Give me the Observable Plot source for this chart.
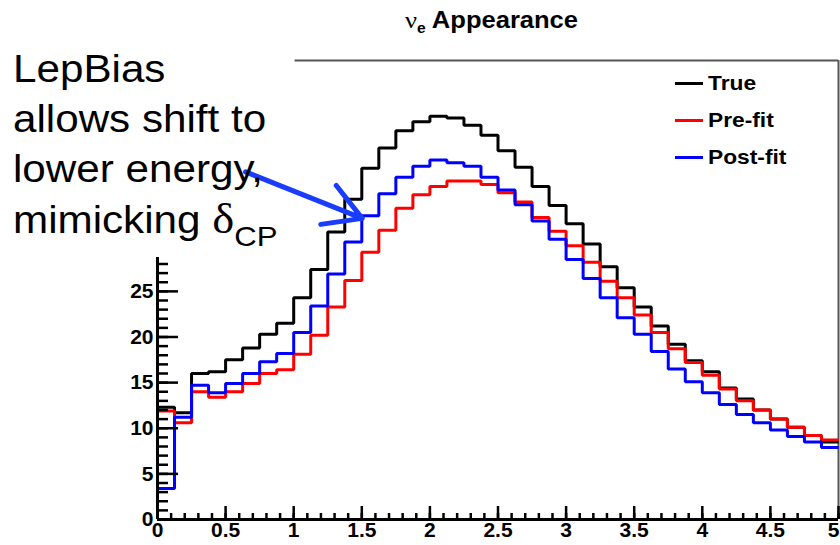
<!DOCTYPE html>
<html><head><meta charset="utf-8">
<script src="https://cdn.jsdelivr.net/npm/d3@7"></script>
<script src="https://cdn.jsdelivr.net/npm/@observablehq/plot@0.6"></script>
<style>
body{margin:0;background:#fff;}
#wrap{position:relative;width:840px;height:545px;overflow:hidden;font-family:"Liberation Sans",Arial,sans-serif;color:#000;}
#chart{position:absolute;left:0;top:0;}
.ov{position:absolute;white-space:nowrap;transform-origin:left center;transform:scaleX(1.11);}
#title{left:405px;top:7px;font-size:23px;line-height:26px;font-weight:bold;}
#title .nu{font-family:"Liberation Serif","DejaVu Serif",serif;font-weight:normal;font-size:24px;}
#title .sub{font-size:14px;position:relative;top:5px;}
.note{left:13px;font-size:38px;line-height:50px;}
.note .delta{font-family:"Liberation Serif","DejaVu Serif",serif;font-size:42px;}
.note .cp{font-size:28px;position:relative;top:13px;}
.legline{position:absolute;left:675px;width:28px;height:3px;}
.legtext{left:708px;font-size:20.5px;font-weight:bold;line-height:24px;}
</style></head><body>
<div id="wrap">
<div id="chart"></div>
</div>
<script>
// ---- data ----
const binLow = [0,0.125,0.25,0.375,0.5,0.625,0.75,0.875,1,1.125,1.25,1.375,1.5,1.625,1.75,1.875,
  2,2.125,2.25,2.375,2.5,2.625,2.75,2.875,3,3.125,3.25,3.375,3.5,3.625,3.75,3.875,
  4,4.125,4.25,4.375,4.5,4.625,4.75,4.875];
const binTop = 5;
const trueVals = [12.3,11.7,16.0,16.2,17.5,18.8,20.3,21.5,24.3,27.4,31.5,35.1,38.5,40.7,42.6,43.6,
  44.2,44.0,43.2,42.1,40.4,38.6,36.5,34.4,32.4,30.2,27.7,25.4,23.3,21.2,19.2,17.4,
  16.2,14.4,13.2,12.0,11.0,10.1,9.2,8.5];
const preFitVals = [11.9,10.6,14.0,13.4,14.0,14.9,16.0,16.4,18.1,20.2,23.3,26.2,29.3,31.7,34.1,35.6,
  36.5,37.1,37.1,36.7,35.8,34.8,33.1,31.6,30.0,28.2,26.1,24.3,22.4,20.5,18.7,17.2,
  15.8,14.3,13.0,12.0,11.0,10.1,9.2,8.7];
const postFitVals = [3.4,11.2,14.7,13.9,14.9,16.0,17.3,18.2,20.5,23.4,26.9,30.4,33.3,35.7,37.5,38.7,
  39.4,39.1,38.7,37.5,36.1,34.5,32.7,30.7,28.5,26.4,24.3,22.1,20.3,18.4,16.5,15.1,
  13.9,12.6,11.5,10.6,9.8,9.1,8.5,7.9];
const seriesNames = ["True","Pre-fit","Post-fit"];
const seriesColors = ["#000000","#ff0000","#0000ff"];
const xMajorTicks = [0,0.5,1,1.5,2,2.5,3,3.5,4,4.5,5];
const xLabelTicks = [0,0.5,1,1.5,2,2.5,3,3.5,4,4.5];
const xLastLabel = [5];
const xMinorTicks = [0,0.1,0.2,0.3,0.4,0.5,0.6,0.7,0.8,0.9,1,1.1,1.2,1.3,1.4,1.5,1.6,1.7,1.8,1.9,2,
  2.1,2.2,2.3,2.4,2.5,2.6,2.7,2.8,2.9,3,3.1,3.2,3.3,3.4,3.5,3.6,3.7,3.8,3.9,4,
  4.1,4.2,4.3,4.4,4.5,4.6,4.7,4.8,4.9,5];
const yMajorTicks = [0,5,10,15,20,25];
const yMinorTicks = [0,1,2,3,4,5,6,7,8,9,10,11,12,13,14,15,16,17,18,19,20,21,22,23,24,25,26,27,28];
const yMax = 50.3;
const yAxisVisibleTop = 28.7;
const frameTopStart = 1.01;
const titleText = "Appearance";
const noteLines = ["LepBias","allows shift to","lower energy,","mimicking"];
const arrowData = [{x1:0.646, y1:38.1, x2:1.503, y2:33.0}];

// ---- layout ----
const W = 840, H = 545, mL = 157, mR = 2, mT = 60, mB = 26;
const plotW = W - mL - mR, plotH = H - mT - mB;

// ---- table ----
const valsBySeries = [trueVals, preFitVals, postFitVals];
const rows = [];
seriesNames.forEach((s, k) => {
  const vals = valsBySeries[k];
  binLow.forEach((x, i) => rows.push({series: s, x, v: vals[i]}));
  rows.push({series: s, x: binTop, v: vals[vals.length - 1]});
});

const fmt = d => String(d);
const chart = Plot.plot({
  width: W, height: H,
  marginLeft: mL, marginRight: mR, marginTop: mT, marginBottom: mB,
  x: {domain: [0, 5]},
  y: {domain: [0, yMax]},
  color: {domain: seriesNames, range: seriesColors},
  style: {fontFamily: "Liberation Sans, Arial, sans-serif", fontWeight: "bold", fontSize: "21px", color: "#000", background: "transparent", overflow: "visible"},
  marks: [
    Plot.ruleY([yMax], {x1: frameTopStart, x2: 5, stroke: "#555", strokeWidth: 2}),
    Plot.ruleX([5], {y1: 0, y2: yMax, stroke: "#555", strokeWidth: 2}),
    Plot.line(rows, {x: "x", y: "v", z: "series", stroke: "series", curve: "step-after", strokeWidth: 3, strokeLinejoin: "miter", strokeLinecap: "butt"}),
    // inward ticks
    Plot.tickX(xMinorTicks, {x: d => d, stroke: "#000", strokeWidth: 2.5, insetTop: plotH - 6}),
    Plot.tickX(xMajorTicks, {x: d => d, stroke: "#000", strokeWidth: 2.5, insetTop: plotH - 13}),
    Plot.tickY(yMinorTicks, {y: d => d, stroke: "#000", strokeWidth: 2.5, insetRight: plotW - 11}),
    Plot.tickY(yMajorTicks, {y: d => d, stroke: "#000", strokeWidth: 2.5, insetRight: plotW - 21}),
    // labels
    Plot.axisX({ticks: xLabelTicks, tickSize: 0, tickPadding: 3, tickFormat: fmt, label: null, fontSize: 21, fontWeight: "bold"}),
    Plot.axisX({ticks: xLastLabel, tickSize: 0, tickPadding: 3, tickFormat: fmt, label: null, fontSize: 21, fontWeight: "bold", dx: -5}),
    Plot.axisY({ticks: yMajorTicks, tickSize: 0, tickPadding: 4, tickFormat: fmt, label: null, fontSize: 21, fontWeight: "bold"}),
    // axis lines
    Plot.ruleY([0], {stroke: "#000", strokeWidth: 3}),
    Plot.ruleX([0], {y1: 0, y2: yAxisVisibleTop, stroke: "#000", strokeWidth: 3}),
    Plot.arrow(arrowData, {x1: "x1", y1: "y1", x2: "x2", y2: "y2", stroke: "#1a3cff", strokeWidth: 5, headLength: 17, bend: 0})
  ]
});
document.getElementById("chart").appendChild(chart);

// ---- overlays: title, legend, annotation ----
const wrap = document.getElementById("wrap");
const title = document.createElement("div");
title.id = "title"; title.className = "ov";
title.innerHTML = `<span class="nu">\u03BD</span><span class="sub">e</span> ${titleText}`;
wrap.appendChild(title);

const legendY = [83, 120, 157];
seriesNames.forEach((s, k) => {
  const ln = document.createElement("div");
  ln.className = "legline"; ln.style.top = (legendY[k] - 1.5) + "px"; ln.style.background = seriesColors[k];
  wrap.appendChild(ln);
  const tx = document.createElement("div");
  tx.className = "ov legtext"; tx.style.top = (legendY[k] - 12) + "px"; tx.textContent = s;
  wrap.appendChild(tx);
});

noteLines.forEach((t, i) => {
  const d = document.createElement("div");
  d.className = "ov note"; d.style.top = (44 + i * 50) + "px";
  if (i === noteLines.length - 1) {
    d.innerHTML = `${t} <span class="delta">\u03B4</span><span class="cp">CP</span>`;
  } else d.textContent = t;
  wrap.appendChild(d);
});
</script>
</body></html>
